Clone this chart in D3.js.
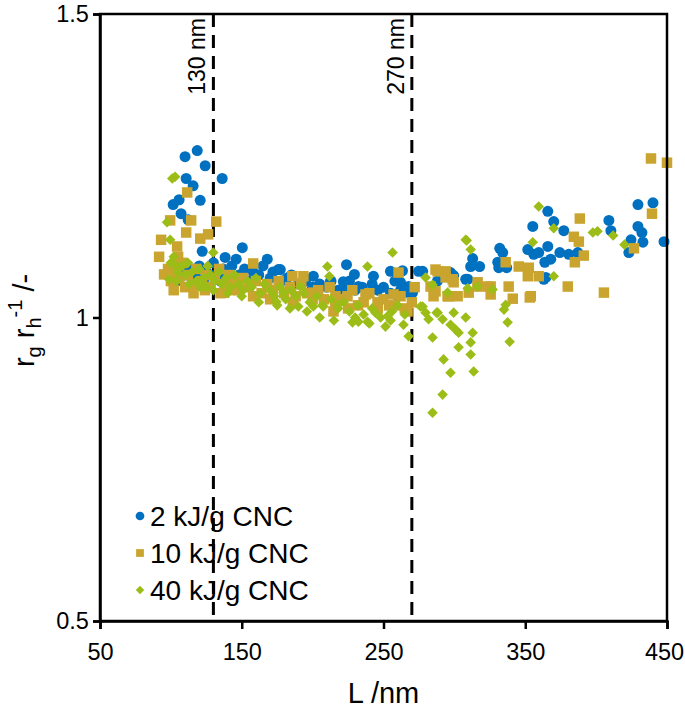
<!DOCTYPE html>
<html><head><meta charset="utf-8">
<script src="https://cdn.jsdelivr.net/npm/d3@7"></script>
<style>body{margin:0;background:#fff}svg{display:block}text{font-family:"Liberation Sans",Arial,sans-serif}</style>
</head><body>
<svg id="c" width="685" height="718"></svg>
<script>
const xTicks = [50, 150, 250, 350, 450];
const yTicks = [0.5, 1, 1.5];
const markerLines = [130, 270];
const seriesNames = ["2 kJ/g CNC", "10 kJ/g CNC", "40 kJ/g CNC"];

const s2 = [
[110,1.265],[118.6,1.275],[124.2,1.25],[110.8,1.229],[115.7,1.217],[120.7,1.193],[105.8,1.194],[101.6,1.186],[107.2,1.171],[112.2,1.161],[136.2,1.229],
[150.4,1.115],[122.1,1.109],[138.3,1.099],[146.1,1.096],[168,1.096],[175.8,1.079],[103.7,1.059],
[110,1.07],[115,1.08],[120,1.085],[125,1.075],[130,1.09],[133,1.07],[137,1.08],[140,1.065],[143,1.085],[148,1.07],[152,1.08],[155,1.06],[158,1.075],[162,1.07],[165,1.085],[170,1.065],[172,1.075],[178,1.06],[182,1.065],[185,1.07],[190,1.055],[195,1.06],[200,1.05],[205,1.055],[210,1.05],[213,1.06],[218,1.045],[222,1.05],[226,1.06],[230,1.045],[235,1.05],[238,1.04],[242,1.055],[246,1.045],[250,1.05],[255,1.04],[258,1.06],[262,1.045],[265,1.05],[268,1.04],
[105,1.065],[108,1.08],[112,1.075],[118,1.065],[123,1.06],[128,1.07],[135,1.06],
[223.9,1.087],[229.5,1.071],[242.9,1.068],[254.9,1.076],[263.4,1.077],[274.7,1.076],[267.7,1.051],[312.9,1.097],[311.5,1.084],[309.4,1.063],[177.2,1.079],[200.5,1.068],[212.5,1.059],[221.7,1.059],[232.3,1.051],
[262,1.058],[265.5,1.046],[270.5,1.041],[258.5,1.038],
[365.9,1.175],[370.1,1.158],[377.2,1.143],[355.3,1.15],[332,1.114],[334.1,1.107],[351.8,1.112],[365.9,1.117],[356,1.104],[359.5,1.107],[374.4,1.107],[380.7,1.104],[387.1,1.107],[363.8,1.091],[368,1.096],[331.3,1.082],[317.8,1.084],[363.1,1.063],
[429.5,1.186],[440.1,1.189],[409,1.16],[410.4,1.143],[429.5,1.15],[432.3,1.14],[424.6,1.128],[433,1.124],[423.1,1.107],[447.9,1.125],
[308,1.063],[277.6,1.076],[297.3,1.074],[299.5,1.069],[330.6,1.091],[336.9,1.082],[364.5,1.066],[288,1.06],[295,1.07]
];

const s10 = [
[111.5,1.206],[99.5,1.16],[114.3,1.16],[110.8,1.14],[93.1,1.128],[120.7,1.13],[126.3,1.137],[132,1.158],[91.7,1.1],[95.2,1.071],[104.4,1.117],[105.1,1.1],[158.1,1.089],[137.6,1.041],
[98,1.08],[100,1.06],[103,1.075],[106,1.065],[108,1.09],[112,1.07],[115,1.055],[118,1.08],[122,1.06],[125,1.07],[128,1.05],[131,1.065],[134,1.08],[138,1.055],[141,1.07],[145,1.06],[148,1.045],[151,1.065],[155,1.05],[160,1.06],[164,1.04],[168,1.055],[172,1.045],[176,1.06],[180,1.04],[184,1.05],[188,1.035],[192,1.055],[196,1.04],[204,1.045],[208,1.03],[212,1.05],[220,1.03],[228,1.045],[232,1.02],[240,1.04],[250,1.03],[254,1.02],[262,1.035],[270,1.025],[272,1.05],
[102,1.045],[110,1.05],[116,1.04],[124,1.045],[135,1.04],[142,1.045],[158,1.035],[170,1.03],[186,1.025],[200,1.03],[216,1.02],[225,1.015],[236,1.025],[246,1.015],[258,1.02],[265,1.015],
[185.7,1.068],[193.5,1.068],[200.5,1.041],[214.7,1.01],[216.1,1.035],[224.6,1.035],[237.3,1.038],[245.8,1.025],[257.1,1.038],[267,1.01],[260.6,1.074],[286.7,1.079],[293.8,1.076],[283.2,1.051],[285.3,1.035],[299.5,1.058],[295.2,1.035],[310.1,1.041],[316.4,1.058],
[438.7,1.262],[450,1.255],[439.4,1.171],[388.5,1.163],[384.3,1.133],[387.8,1.125],[391.3,1.102],[385,1.091],[426.7,1.114],[336.2,1.091],[345.4,1.084],[352.5,1.082],[351.8,1.068],[359.5,1.068],[380,1.051],[405.5,1.041],[353.2,1.033],[338.3,1.051],[341.2,1.031],[325.6,1.051],[316.4,1.051],[325.6,1.038],
[288.2,1.076],[293.8,1.066],[298.8,1.063],[353.9,1.035],[323.5,1.051],[286.7,1.043],[296,1.035],[302.3,1.035]
];

const s40 = [
[103,1.232],[101,1.229],[97.3,1.157],[99.5,1.128],[98.8,1.063],[105,1.074],[103,1.087],[122.8,1.051],[129.9,1.107],[124.9,1.051],[174.4,1.026],
[100,1.09],[102,1.1],[105,1.08],[108,1.085],[110,1.07],[112,1.09],[115,1.075],[118,1.06],[120,1.08],[123,1.065],[126,1.085],[128,1.07],[131,1.06],[134,1.075],[136,1.055],[139,1.065],[142,1.05],[145,1.07],[148,1.055],[151,1.045],[154,1.06],[157,1.05],[160,1.065],[163,1.04],[166,1.055],[170,1.045],[173,1.035],[177,1.05],[181,1.03],[185,1.045],[188,1.035],[194,1.04],[198,1.025],[203,1.035],[207,1.02],[213,1.03],[218,1.015],[222,1.025],[226,1.01],[232,1.02],[236,1.005],[242,1.015],[248,1.0],[256,1.01],[260,1.02],[265,1.005],
[104,1.06],[113,1.055],[121,1.05],[130,1.045],[140,1.04],[150,1.035],[162,1.025],[175,1.02],[184,1.015],[196,1.01],[205,1.0],[215,0.995],[230,1.0],[240,0.99],[255,0.995],
[256.4,1.107],[238.7,1.084],[210.4,1.084],[211.8,1.068],[228.1,0.992],[232.3,0.993],[238.7,0.993],[251.4,0.985],[264.1,0.988],[267.7,0.969],[244.3,1.008],[252.8,1.002],[189.9,1.018],[200.5,1.018],[207.5,1.018],[218,1.021],[191.3,1.051],[179.3,1.041],
[276.1,1.018],[279.7,1.008],[281.8,0.997],[288.2,1.008],[291.7,0.997],[284.6,0.967],[292.4,0.931],[297.3,0.909],[291.7,0.873],[284.6,0.843],[297.3,0.988],[300.9,0.98],[303,0.975],[308,1.0],[312.9,0.975],[311.5,0.959],[303,0.951],[311.5,0.939],[313.6,0.911],[308,1.128],[311.5,1.112],
[335,1.013],[337.6,0.992],[339,0.96],
[359.5,1.183],[370.1,1.147],[355.3,1.124],[397.7,1.14],[370.1,1.068],[327,1.046],[316.4,1.051],[336.2,1.021],
[308.7,1.127],[309.4,1.048],[284.6,1.054],[279.7,1.066],[295.2,1.041],[299.5,1.008],[287.5,1.008],[277.6,1.018],
[401,1.142],[412,1.135],[420,1.12]
];

const colors = ["#0070C0", "#C9A42E", "#9CBD17"];
const font = '"Liberation Sans",Arial,sans-serif';

const svg = d3.select("#c");
const L = 100, R = 667, T = 14, B = 621;
const x = d3.scaleLinear().domain([50, 450]).range([L, R]);
const y = d3.scaleLinear().domain([0.5, 1.5]).range([B, T]);

// dashed lines
svg.selectAll(".vline").data(markerLines).enter().append("line")
  .attr("x1", d => x(d)).attr("x2", d => x(d)).attr("y1", T).attr("y2", B)
  .attr("stroke", "#000").attr("stroke-width", 3).attr("stroke-dasharray", "13,8");
svg.selectAll(".vlab").data(markerLines).enter().append("text")
  .attr("transform", d => `translate(${x(d) - 8},${T + 4}) rotate(-90)`)
  .attr("text-anchor", "end").attr("font-size", 23).attr("fill", "#000")
  .text(d => d + " nm");

const sym = [d3.symbolCircle, d3.symbolSquare, d3.symbolSquare];
const sizes = [95, 110, 56];
const rot = ["", "", " rotate(45)"];
[s2, s10, s40].forEach((s, i) => {
  const g = svg.append("g");
  g.selectAll("path").data(s).enter().append("path")
    .attr("d", d3.symbol().type(sym[i]).size(sizes[i]))
    .attr("transform", d => `translate(${x(d[0])},${y(d[1])})${rot[i]}`)
    .attr("fill", colors[i]);
});

// frame
svg.append("rect").attr("x", L).attr("y", T).attr("width", R - L).attr("height", B - T)
  .attr("fill", "none").attr("stroke", "#000").attr("stroke-width", 2.5);

const xAxis = svg.append("g").attr("transform", `translate(0,${B})`)
  .call(d3.axisBottom(x).tickValues(xTicks).tickSize(8).tickFormat(d3.format("d")));
const yAxis = svg.append("g").attr("transform", `translate(${L},0)`)
  .call(d3.axisLeft(y).tickValues(yTicks).tickSize(7).tickFormat(d => d === 1 ? "1" : d3.format(".1f")(d)));
[xAxis, yAxis].forEach(a => {
  a.select(".domain").attr("stroke", "#000").attr("stroke-width", 2.5);
  a.selectAll(".tick line").attr("stroke", "#000").attr("stroke-width", 2.5);
  a.selectAll(".tick text").attr("font-size", 23.5).attr("fill", "#000").style("font-family", font);
});
xAxis.selectAll(".tick text").attr("dy", "1.2em").attr("dx", d => d === 450 ? -3 : 0);
yAxis.selectAll(".tick text").attr("dx", "-0.05em");

svg.append("text").attr("x", x(250)).attr("y", 703).attr("text-anchor", "middle")
  .attr("font-size", 29).text("L /nm");

const yl = svg.append("text").attr("transform", `translate(34,${y(1) + 3}) rotate(-90)`)
  .attr("text-anchor", "middle").attr("font-size", 29);
yl.append("tspan").text("r");
yl.append("tspan").attr("font-size", 20).attr("dy", 7).text("g");
yl.append("tspan").attr("dy", -7).text(" r");
yl.append("tspan").attr("font-size", 20).attr("dy", 7).text("h");
yl.append("tspan").attr("font-size", 20).attr("dy", -19).text("-1");
yl.append("tspan").attr("dy", 12).text(" /-");

// legend
const lg = svg.append("g");
seriesNames.forEach((n, i) => {
  const cy = 516 + i * 37;
  lg.append("path").attr("d", d3.symbol().type(sym[i]).size(i === 2 ? 36 : 60)())
    .attr("transform", `translate(140,${cy})${rot[i]}`).attr("fill", colors[i]);
  lg.append("text").attr("x", 150).attr("y", cy + 10).attr("font-size", 28).text(n);
});
</script>
</body></html>
